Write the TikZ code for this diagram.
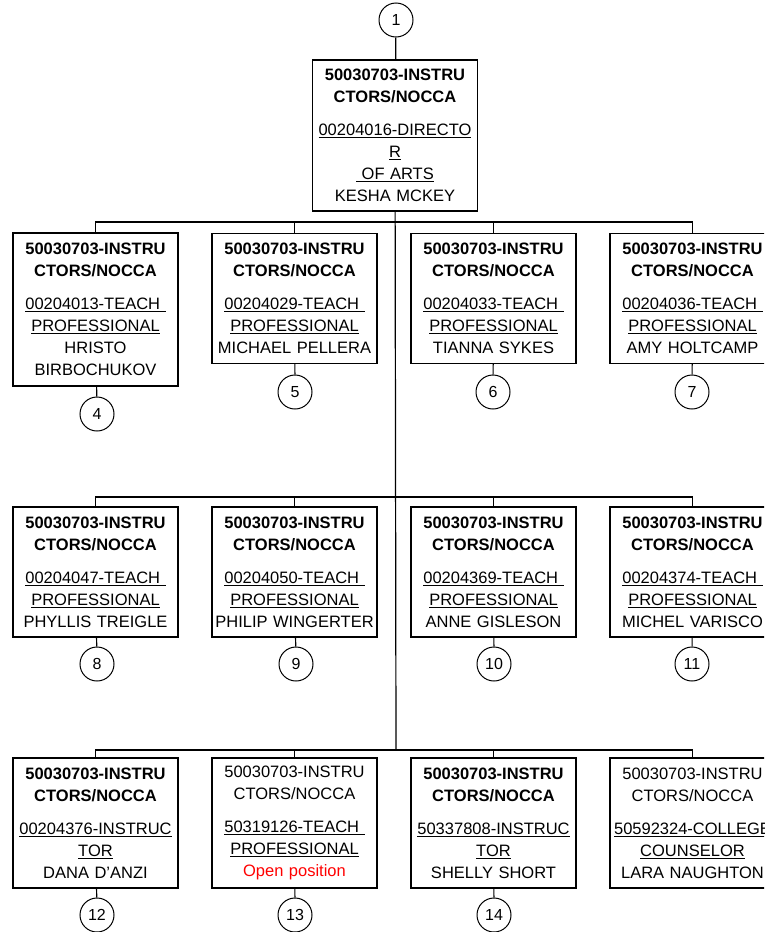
\documentclass[tikz,border=0pt]{standalone}
\usepackage{fontspec}
\setmainfont{Liberation Sans}
\usepackage{xcolor}
\tikzset{>=latex}
\tikzset{
  posbox/.style={draw,rectangle,line width=1.2pt,inner sep=0pt,minimum width=165pt,minimum height=130pt,text width=163pt,align=center,font=\fontsize{16.5}{22}\selectfont},
  numcirc/.style={draw,circle,line width=1pt,inner sep=0pt,minimum size=34pt,font=\fontsize{16}{18}\selectfont},
  link/.style={line width=1.2pt}
}
\definecolor{openred}{RGB}{255,0,0}

\begin{document}
\begin{tikzpicture}[x=1pt,y=-1pt]
\useasboundingbox (0,0) rectangle (764,932);
\clip (0,0) rectangle (764,932);
% top
\node[numcirc] (c1) at (396,20) {1};
\node[posbox,minimum height=151pt] (dir) at (395,135.5) {\textbf{50030703-INSTRU}\\ \textbf{CTORS/NOCCA}\\[11pt] \underline{00204016-DIRECTO}\\ \underline{R}\\ \underline{\ OF ARTS}\\ KESHA MCKEY};
\coordinate (r1) at (396,222);
\coordinate (r2) at (396,497);
\coordinate (r3) at (396,750);
\draw[link] (c1) -- (dir);
\draw[link] (dir) -- (r3);
% row 1
\node[posbox,minimum height=153pt] (b4) at (95.5,309.5) {\textbf{50030703-INSTRU}\\ \textbf{CTORS/NOCCA}\\[11pt] \underline{00204013-TEACH\ }\\ \underline{PROFESSIONAL}\\ HRISTO\\ BIRBOCHUKOV};
\node[posbox] (b5) at (294.5,298.5) {\textbf{50030703-INSTRU}\\ \textbf{CTORS/NOCCA}\\[11pt] \underline{00204029-TEACH\ }\\ \underline{PROFESSIONAL}\\ MICHAEL PELLERA};
\node[posbox] (b6) at (493.5,298.5) {\textbf{50030703-INSTRU}\\ \textbf{CTORS/NOCCA}\\[11pt] \underline{00204033-TEACH\ }\\ \underline{PROFESSIONAL}\\ TIANNA SYKES};
\node[posbox] (b7) at (692.5,298.5) {\textbf{50030703-INSTRU}\\ \textbf{CTORS/NOCCA}\\[11pt] \underline{00204036-TEACH\ }\\ \underline{PROFESSIONAL}\\ AMY HOLTCAMP};
\node[numcirc] (c4) at (97,414) {4};
\node[numcirc] (c5) at (295,392) {5};
\node[numcirc] (c6) at (493,392) {6};
\node[numcirc] (c7) at (692,392) {7};
\draw[link] (r1) -| (b4.north);
\draw[link] (r1) -| (b5.north);
\draw[link] (r1) -| (b6.north);
\draw[link] (r1) -| (b7.north);
\draw[link] (b4) -- (c4);
\draw[link] (b5) -- (c5);
\draw[link] (b6) -- (c6);
\draw[link] (b7) -- (c7);
% row 2
\node[posbox] (b8) at (95.5,572) {\textbf{50030703-INSTRU}\\ \textbf{CTORS/NOCCA}\\[11pt] \underline{00204047-TEACH\ }\\ \underline{PROFESSIONAL}\\ PHYLLIS TREIGLE};
\node[posbox] (b9) at (294.5,572) {\textbf{50030703-INSTRU}\\ \textbf{CTORS/NOCCA}\\[11pt] \underline{00204050-TEACH\ }\\ \underline{PROFESSIONAL}\\ PHILIP WINGERTER};
\node[posbox] (b10) at (493.5,572) {\textbf{50030703-INSTRU}\\ \textbf{CTORS/NOCCA}\\[11pt] \underline{00204369-TEACH\ }\\ \underline{PROFESSIONAL}\\ ANNE GISLESON};
\node[posbox] (b11) at (692.5,572) {\textbf{50030703-INSTRU}\\ \textbf{CTORS/NOCCA}\\[11pt] \underline{00204374-TEACH\ }\\ \underline{PROFESSIONAL}\\ MICHEL VARISCO};
\node[numcirc] (c8) at (97,664) {8};
\node[numcirc] (c9) at (296,664) {9};
\node[numcirc] (c10) at (494,664) {10};
\node[numcirc] (c11) at (692,664) {11};
\draw[link] (r2) -| (b8.north);
\draw[link] (r2) -| (b9.north);
\draw[link] (r2) -| (b10.north);
\draw[link] (r2) -| (b11.north);
\draw[link] (b8) -- (c8);
\draw[link] (b9) -- (c9);
\draw[link] (b10) -- (c10);
\draw[link] (b11) -- (c11);
% row 3
\node[posbox] (b12) at (95.5,823) {\textbf{50030703-INSTRU}\\ \textbf{CTORS/NOCCA}\\[11pt] \underline{00204376-INSTRUC}\\ \underline{TOR}\\ DANA D'ANZI};
\node[posbox] (b13) at (294.5,823) {50030703-INSTRU\\ CTORS/NOCCA\\[11pt] \underline{50319126-TEACH\ }\\ \underline{PROFESSIONAL}\\ \textcolor{openred}{Open position}};
\node[posbox] (b14) at (493.5,823) {\textbf{50030703-INSTRU}\\ \textbf{CTORS/NOCCA}\\[11pt] \underline{50337808-INSTRUC}\\ \underline{TOR}\\ SHELLY SHORT};
\node[posbox] (b15) at (692.5,823) {50030703-INSTRU\\ CTORS/NOCCA\\[11pt] \underline{50592324-COLLEGE}\\ \underline{COUNSELOR}\\ LARA NAUGHTON};
\node[numcirc] (c12) at (97,915) {12};
\node[numcirc] (c13) at (295,915) {13};
\node[numcirc] (c14) at (494,915) {14};
\draw[link] (r3) -| (b12.north);
\draw[link] (r3) -| (b13.north);
\draw[link] (r3) -| (b14.north);
\draw[link] (r3) -| (b15.north);
\draw[link] (b12) -- (c12);
\draw[link] (b13) -- (c13);
\draw[link] (b14) -- (c14);
\end{tikzpicture}
\end{document}
